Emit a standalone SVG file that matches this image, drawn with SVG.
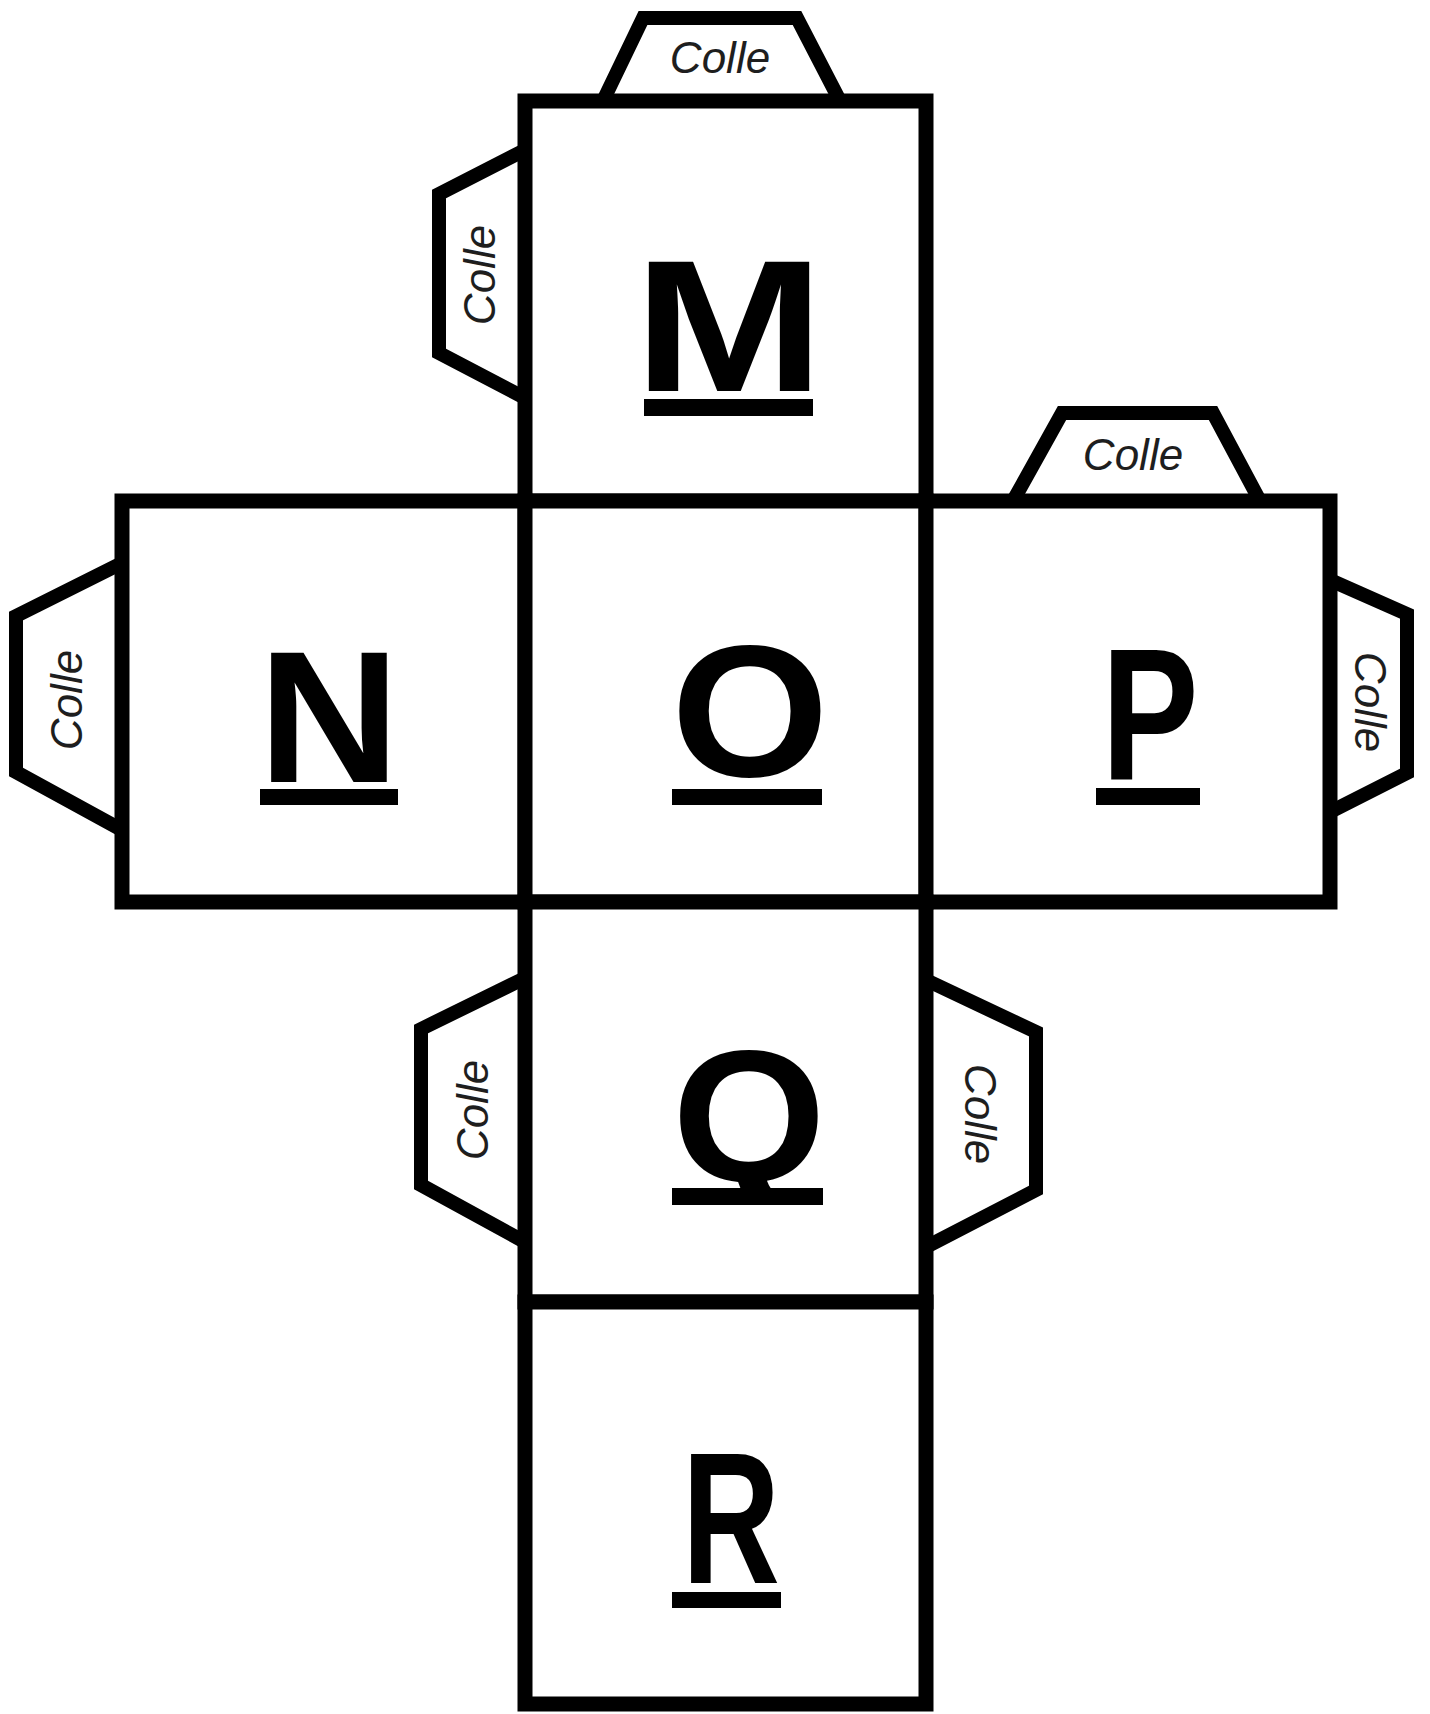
<svg xmlns="http://www.w3.org/2000/svg" width="1430" height="1714" viewBox="0 0 1430 1714">
<style>
.face{fill:#fff;stroke:#000;stroke-width:15;stroke-linejoin:miter}
.tab{fill:#fff;stroke:#000;stroke-width:14;stroke-linejoin:miter}
.colle{font-family:"Liberation Sans",Arial,sans-serif;font-style:italic;font-size:44px;fill:#1e1e1e;text-anchor:middle}
.big{font-family:"Liberation Sans",Arial,sans-serif;font-weight:bold;font-size:188px;fill:#000;text-anchor:middle}
.ul{fill:#000}
</style>
<defs>
<clipPath id="qclip"><rect x="600" y="1000" width="300" height="205"/></clipPath>
</defs>
<rect width="1430" height="1714" fill="#fff"/>
<g id="tabs">
<g id="tab-M-top"><polyline class="tab" points="603,101 643,18 797,18 840,101"/><text class="colle" x="720" y="73">Colle</text></g>
<g id="tab-M-left"><polyline class="tab" points="525,150 439,194 439,353 525,398"/><text class="colle" transform="translate(495,275) rotate(-90)">Colle</text></g>
<g id="tab-N-left"><polyline class="tab" points="122,563 16,616 16,772 122,830"/><text class="colle" transform="translate(82,700) rotate(-90)">Colle</text></g>
<g id="tab-P-top"><polyline class="tab" points="1013,501 1062,413 1213,413 1260,501"/><text class="colle" x="1133" y="470">Colle</text></g>
<g id="tab-P-right"><polyline class="tab" points="1330,580 1407,614 1407,773 1330,812"/><text class="colle" transform="translate(1355,702) rotate(90)">Colle</text></g>
<g id="tab-Q-left"><polyline class="tab" points="525,978 421,1029 421,1185 525,1242"/><text class="colle" transform="translate(488,1110) rotate(-90)">Colle</text></g>
<g id="tab-Q-right"><polyline class="tab" points="926,980 1036,1032 1036,1190 926,1247"/><text class="colle" transform="translate(965,1114) rotate(90)">Colle</text></g>
</g>
<g id="face-M"><rect class="face" x="525" y="101" width="401" height="400"/><text class="big" x="729" y="391" textLength="191" lengthAdjust="spacingAndGlyphs">M</text><rect class="ul" x="644" y="399" width="169" height="17"/></g>
<g id="face-N"><rect class="face" x="122" y="501" width="403" height="401"/><text class="big" x="329" y="782" textLength="142" lengthAdjust="spacingAndGlyphs">N</text><rect class="ul" x="260" y="789" width="138" height="16"/></g>
<g id="face-O"><rect class="face" x="525" y="501" width="401" height="401"/><text class="big" x="750" y="776" textLength="158" lengthAdjust="spacingAndGlyphs">O</text><rect class="ul" x="672" y="789" width="150" height="16"/></g>
<g id="face-P"><rect class="face" x="926" y="501" width="404" height="401"/><text class="big" x="1150" y="779" textLength="97" lengthAdjust="spacingAndGlyphs">P</text><rect class="ul" x="1096" y="788" width="104" height="17"/></g>
<g id="face-Q"><rect class="face" x="525" y="902" width="401" height="400"/><text class="big" x="749" y="1181" textLength="154" lengthAdjust="spacingAndGlyphs" clip-path="url(#qclip)">Q</text><rect class="ul" x="672" y="1188" width="151" height="17"/></g>
<g id="face-R"><rect class="face" x="525" y="1302" width="401" height="402"/><text class="big" x="731" y="1583" textLength="98" lengthAdjust="spacingAndGlyphs">R</text><rect class="ul" x="672" y="1592" width="109" height="16"/></g>
<g id="connectors"></g>
</svg>
